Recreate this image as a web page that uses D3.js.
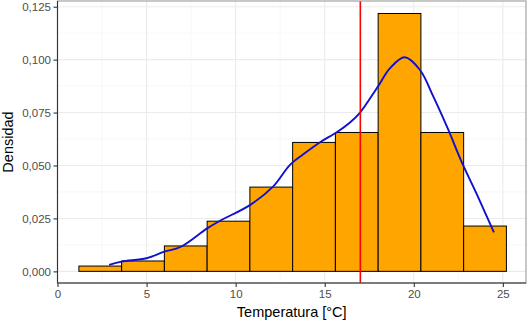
<!DOCTYPE html>
<html lang="es">
<head>
<meta charset="UTF-8">
<title>Histograma de temperatura</title>
<style>
  body { margin: 0; background: #fff; }
  text { font-family: "Liberation Sans", Arial, sans-serif; }
</style>
</head>
<body>
<div class="canvas"></div>
<script src="https://cdnjs.cloudflare.com/ajax/libs/d3/7.8.5/d3.min.js"></script>
<script>
// histogram bins (°C) and density per bin
const binEdges = [1.2, 3.6, 6.0, 8.4, 10.8, 13.2, 15.6, 18.0, 20.4, 22.8, 25.2];
const binDensity = [0.0025, 0.0049, 0.0120, 0.0237, 0.0398, 0.0609, 0.0656, 0.1218, 0.0656, 0.0214];

// kernel density curve
const kdeX = [2.9, 3.6, 5.0, 6.0, 6.9, 8.4, 9.1, 10.8, 12.1, 13.05, 13.8, 14.74, 15.68, 16.42, 16.95, 17.98, 18.67, 19.5, 20.35, 21.1, 21.9, 22.7, 23.6, 24.5];
const kdeY = [0.0031, 0.0046, 0.0062, 0.0093, 0.0115, 0.0203, 0.0238, 0.0313, 0.0400, 0.0503, 0.0553, 0.0610, 0.0657, 0.0703, 0.0746, 0.0872, 0.0960, 0.1011, 0.0951, 0.0825, 0.0676, 0.0515, 0.0353, 0.0184];

const meanTemp = 17.0;

const xTicks = [0, 5, 10, 15, 20, 25];
const yTicks = [0, 0.025, 0.05, 0.075, 0.1, 0.125];
const xMinor = [2.5, 7.5, 12.5, 17.5, 22.5];
const yMinor = [0.0125, 0.0375, 0.0625, 0.0875, 0.1125];

const width = 528, height = 322;
const panel = {left: 57.5, right: 526, top: 1, bottom: 283};

const svg = d3.select('.canvas')
  .append('svg')
    .attr('width', width)
    .attr('height', height);

const x = d3.scaleLinear().domain([0, 26.3]).range([panel.left, panel.right]);
const y = d3.scaleLinear().domain([-0.0055, 0.1277]).range([panel.bottom, panel.top]);

// grid
const grid = svg.append('g');
grid.selectAll('.xminor').data(xMinor).enter().append('line')
  .attr('x1', d => x(d)).attr('x2', d => x(d))
  .attr('y1', panel.top).attr('y2', panel.bottom)
  .attr('stroke', '#F2F2F2').attr('stroke-width', 0.6);
grid.selectAll('.yminor').data(yMinor).enter().append('line')
  .attr('x1', panel.left).attr('x2', panel.right)
  .attr('y1', d => y(d)).attr('y2', d => y(d))
  .attr('stroke', '#F2F2F2').attr('stroke-width', 0.6);
grid.selectAll('.xmajor').data(xTicks).enter().append('line')
  .attr('x1', d => x(d)).attr('x2', d => x(d))
  .attr('y1', panel.top).attr('y2', panel.bottom)
  .attr('stroke', '#EBEBEB').attr('stroke-width', 1.1);
grid.selectAll('.ymajor').data(yTicks).enter().append('line')
  .attr('x1', panel.left).attr('x2', panel.right)
  .attr('y1', d => y(d)).attr('y2', d => y(d))
  .attr('stroke', '#EBEBEB').attr('stroke-width', 1.1);

// bars
const bins = binDensity.map((d, i) => ({x0: binEdges[i], x1: binEdges[i + 1], density: d}));
svg.append('g').selectAll('rect')
  .data(bins)
  .enter().append('rect')
    .attr('x', d => x(d.x0))
    .attr('y', d => y(d.density))
    .attr('width', d => x(d.x1) - x(d.x0))
    .attr('height', d => y(0) - y(d.density))
    .attr('fill', '#FFA500')
    .attr('stroke', '#000')
    .attr('stroke-width', 1);

// density curve
const line = d3.line()
  .x(d => x(d[0]))
  .y(d => y(d[1]))
  .curve(d3.curveCatmullRom.alpha(0.5));

svg.append('path')
  .datum(kdeX.map((d, i) => [d, kdeY[i]]))
  .attr('d', line)
  .attr('fill', 'none')
  .attr('stroke', '#1010D0')
  .attr('stroke-width', 1.9);

// vertical line
svg.append('line')
  .attr('x1', x(meanTemp)).attr('x2', x(meanTemp))
  .attr('y1', panel.top).attr('y2', panel.bottom)
  .attr('stroke', '#FF0000')
  .attr('stroke-width', 1.6);

// panel border (light) and axis lines (dark)
svg.append('rect')
  .attr('x', panel.left).attr('y', panel.top)
  .attr('width', panel.right - panel.left).attr('height', panel.bottom - panel.top)
  .attr('fill', 'none')
  .attr('stroke', '#9A9A9A')
  .attr('stroke-width', 1.1);

const xAxis = d3.axisBottom(x).tickValues(xTicks).tickSize(4).tickSizeOuter(0)
  .tickFormat(d3.format('d'));
const yAxis = d3.axisLeft(y).tickValues(yTicks).tickSize(4).tickSizeOuter(0)
  .tickFormat(d => d3.format('.3f')(d).replace('.', ','));

const xAxisGroup = svg.append('g')
  .attr('transform', `translate(0, ${panel.bottom})`)
  .call(xAxis);
const yAxisGroup = svg.append('g')
  .attr('transform', `translate(${panel.left}, 0)`)
  .call(yAxis);

xAxisGroup.select('.domain').remove();
yAxisGroup.select('.domain').remove();

svg.append('line')
  .attr('x1', panel.left).attr('x2', panel.right).attr('y1', panel.bottom).attr('y2', panel.bottom)
  .attr('stroke', '#333').attr('stroke-width', 1.1);
svg.append('line')
  .attr('x1', panel.left).attr('x2', panel.left).attr('y1', panel.top).attr('y2', panel.bottom)
  .attr('stroke', '#333').attr('stroke-width', 1.1);

[xAxisGroup, yAxisGroup].forEach(g => {
  g.selectAll('.tick line').attr('stroke', '#333').attr('stroke-width', 1.1);
  g.selectAll('.tick text')
    .attr('fill', '#4D4D4D')
    .style('font-size', '11.5px')
    .style('font-family', '"Liberation Sans", Arial, sans-serif');
});
xAxisGroup.selectAll('.tick text').attr('dy', '0.71em').attr('y', 7);
yAxisGroup.selectAll('.tick text').attr('x', -6.5);

// axis titles
svg.append('text')
  .attr('x', (panel.left + panel.right) / 2)
  .attr('y', 316.5)
  .attr('text-anchor', 'middle')
  .style('font-size', '14.5px')
  .attr('fill', '#000')
  .text('Temperatura [°C]');

svg.append('text')
  .attr('transform', `translate(13, ${(panel.top + panel.bottom) / 2}) rotate(-90)`)
  .attr('text-anchor', 'middle')
  .style('font-size', '14.5px')
  .attr('fill', '#000')
  .text('Densidad');
</script>
</body>
</html>
